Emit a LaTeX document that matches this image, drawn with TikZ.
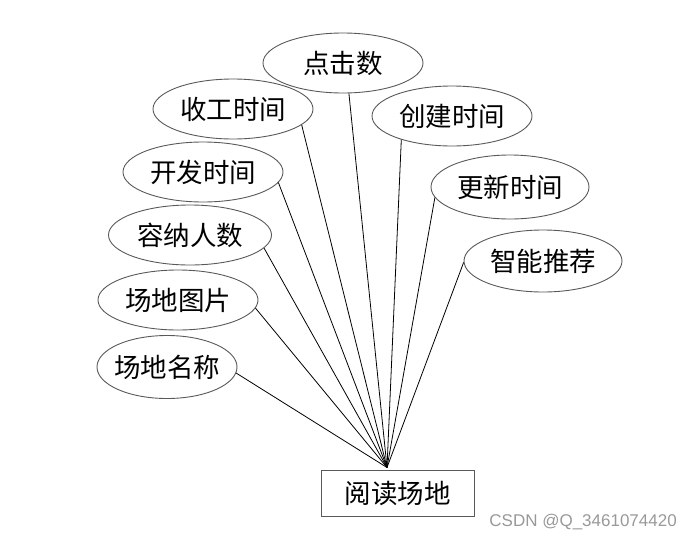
\documentclass[tikz,border=0pt]{standalone}
\usepackage{fontspec}
\setmainfont{Noto Sans CJK SC}
\newfontfamily\wmfont{Liberation Sans}
\usetikzlibrary{shapes.geometric}

\tikzset{attr_style/.style={ellipse, draw=black!65, line width=0.9pt, minimum width=160pt, minimum height=60pt, inner sep=0pt, font=\fontsize{26.5}{29}\selectfont}}
\tikzset{ent_style/.style={rectangle, draw=black!65, line width=1pt, minimum width=153pt, minimum height=46pt, inner sep=0pt, font=\fontsize{26.5}{29}\selectfont}}

\begin{document}
\begin{tikzpicture}[x=1pt, y=-1pt]
    \useasboundingbox (0,0) rectangle (692,541);

    \node[attr_style] (clicks) at (343,63){点击数};
    \node[attr_style] (endtime) at (233,109){收工时间};
    \node[attr_style] (created) at (452,116){创建时间};
    \node[attr_style] (devtime) at (203,172){开发时间};
    \node[attr_style, minimum width=158pt, minimum height=64pt] (updated) at (510,187){更新时间};
    \node[attr_style, minimum width=163pt] (capacity) at (190,235){容纳人数};
    \node[attr_style, minimum width=158pt, minimum height=62pt] (recommend) at (543,261){智能推荐};
    \node[attr_style] (photo) at (178,300){场地图片};
    \node[attr_style, inner xsep=-7pt, minimum width=140pt, minimum height=63pt] (name) at (167,367){场地名称};
    \node[ent_style] (venue) at (397.5,493){阅读场地};
    \node[text=black!40, font=\wmfont\fontsize{17}{19}\selectfont, anchor=east, inner sep=0pt] (mark) at (677,522){CSDN @Q\_3461074420};

    \coordinate (hub) at ([xshift=-10.5pt, yshift=2pt]venue.north);

    \draw[line width=0.8pt] (clicks.-79) -- (hub);
    \draw[line width=0.8pt] (endtime.-13) -- (hub);
    \draw[line width=0.8pt] (created.-155) -- (hub);
    \draw[line width=0.8pt] (devtime.-8) -- (hub);
    \draw[line width=0.8pt] (updated.-172) -- (hub);
    \draw[line width=0.8pt] (capacity.-10) -- (hub);
    \draw[line width=0.8pt] (recommend.181) -- (hub);
    \draw[line width=0.8pt] (photo.-6) -- (hub);
    \draw[line width=0.8pt] (name.-5) -- (hub);

\end{tikzpicture}
\end{document}
